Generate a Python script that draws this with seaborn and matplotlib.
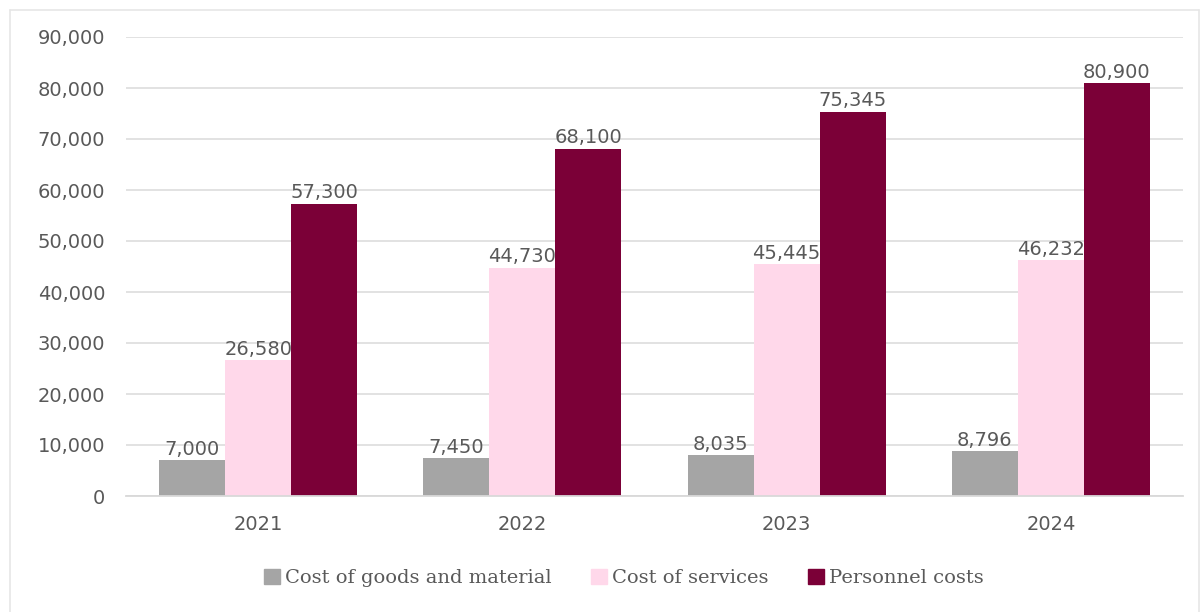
import matplotlib
matplotlib.use("Agg")
import matplotlib.pyplot as plt
import seaborn as sns
import pandas as pd
from matplotlib.lines import Line2D
from matplotlib.ticker import FuncFormatter

years = ["2021", "2022", "2023", "2024"]
series = ["Cost of goods and material", "Cost of services", "Personnel costs"]
goods = [7000, 7450, 8035, 8796]
services = [26580, 44730, 45445, 46232]
personnel = [57300, 68100, 75345, 80900]
colors = ["#A5A5A5", "#FFD8EA", "#7B0037"]

rows = []
for s, vals in zip(series, [goods, services, personnel]):
    for y, v in zip(years, vals):
        rows.append({"Year": y, "Series": s, "Value": v})
df = pd.DataFrame(rows)

sns.set_theme(style="white")
plt.rcParams["font.family"] = ["DejaVu Sans"]

fig = plt.figure(figsize=(12.02, 6.12), dpi=100)
ax = fig.add_axes([126 / 1202, 1 - 496 / 612, (1183 - 126) / 1202, (496 - 37) / 612])

sns.barplot(data=df, x="Year", y="Value", hue="Series", order=years, hue_order=series,
            palette=colors, width=0.75, saturation=1, ax=ax, legend=False, linewidth=0)

ax.set_ylim(0, 90000)
ax.set_xlim(-0.5, 3.5)
ax.set_yticks(range(0, 90001, 10000))
ax.yaxis.set_major_formatter(FuncFormatter(lambda v, p: f"{int(v):,}"))
ax.grid(axis="y", color="#DDDDDD", linewidth=1.2)
ax.set_axisbelow(True)
for side in ["top", "right", "left"]:
    ax.spines[side].set_visible(False)
ax.spines["bottom"].set_color("#D9D9D9")
ax.spines["bottom"].set_linewidth(1.3)
ax.tick_params(axis="y", length=0, pad=15, labelsize=14, labelcolor="#595959")
ax.tick_params(axis="x", length=0, pad=14, labelsize=14, labelcolor="#595959")
ax.set_xlabel("")
ax.set_ylabel("")

for cont in ax.containers:
    ax.bar_label(cont, labels=[f"{int(v):,}" for v in cont.datavalues],
                 padding=1, fontsize=14, color="#595959")

handles = [plt.Rectangle((0, 0), 1, 1, color=c) for c in colors]
fig.legend(handles, series, loc="center", bbox_to_anchor=(0.519, 1 - 578 / 612), ncol=3,
           frameon=False, handlelength=0.85, handleheight=0.85, handletextpad=0.25,
           columnspacing=2.0, prop={"family": "DejaVu Serif", "size": 14},
           labelcolor="#595959")

# faint chart border
bc = "#E6E6E6"
fig.add_artist(Line2D([10 / 1202, 10 / 1202], [0, 1 - 10 / 612], transform=fig.transFigure, color=bc, lw=1.2))
fig.add_artist(Line2D([10 / 1202, 1199 / 1202], [1 - 10 / 612, 1 - 10 / 612], transform=fig.transFigure, color=bc, lw=1.2))
fig.add_artist(Line2D([1199 / 1202, 1199 / 1202], [0, 1 - 10 / 612], transform=fig.transFigure, color=bc, lw=1.2))

fig.savefig("out.png", dpi=100, facecolor="white")
